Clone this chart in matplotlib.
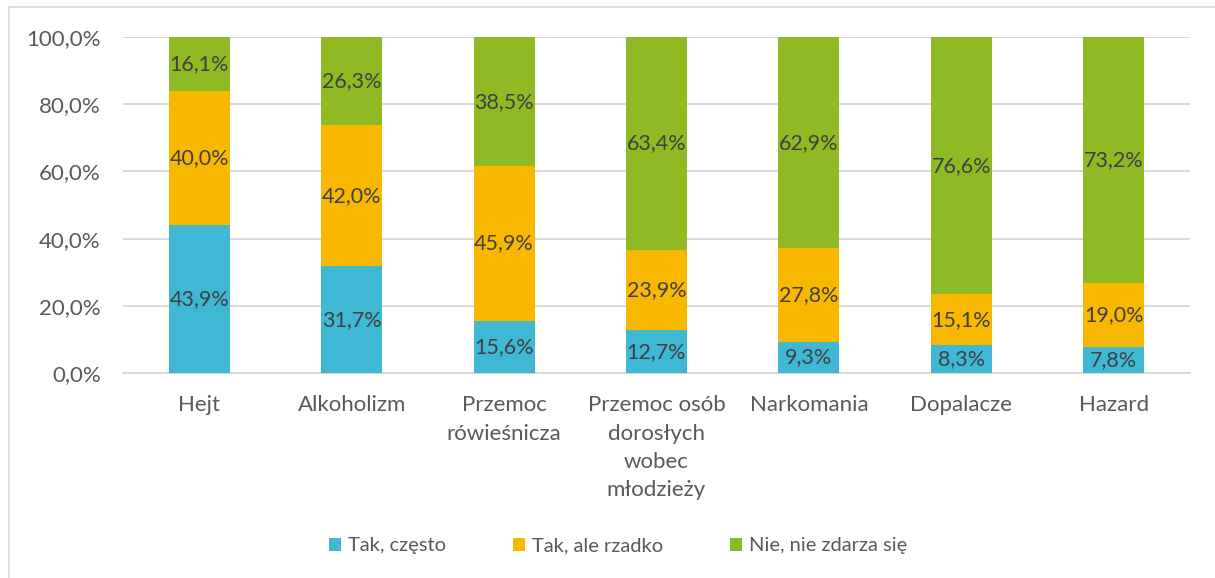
import matplotlib
matplotlib.use('Agg')
import matplotlib.pyplot as plt
from matplotlib.lines import Line2D
import numpy as np

plt.rcParams['font.family'] = ['Lato', 'DejaVu Sans']

categories = ['Hejt', 'Alkoholizm', 'Przemoc\nrówieśnicza',
              'Przemoc osób\ndorosłych\nwobec\nmłodzieży',
              'Narkomania', 'Dopalacze', 'Hazard']
often = [43.9, 31.7, 15.6, 12.7, 9.3, 8.3, 7.8]
rarely = [40.0, 42.0, 45.9, 23.9, 27.8, 15.1, 19.0]
never = [16.1, 26.3, 38.5, 63.4, 62.9, 76.6, 73.2]
series_names = ['Tak, często', 'Tak, ale rzadko', 'Nie, nie zdarza się']
colors = ['#3FB8D3', '#F9B800', '#8FBA24']

fig = plt.figure(figsize=(12.15, 5.78), dpi=100)
ax = fig.add_axes([123 / 1215, 1 - 373 / 578, (1190 - 123) / 1215, (373 - 37) / 578])

x = np.arange(len(categories))
width = 0.4
bottom = np.zeros(len(categories))
for vals, name, col in zip([often, rarely, never], series_names, colors):
    vals = np.array(vals)
    ax.bar(x, vals, width, bottom=bottom, color=col, label=name, zorder=3)
    for xi, b, v in zip(x, bottom, vals):
        ax.text(xi, b + v / 2, f'{v:.1f}%'.replace('.', ','), ha='center', va='center',
                fontsize=15.5, color='#404040', zorder=4)
    bottom += vals

ax.set_xlim(-0.5, len(categories) - 0.5)
ax.set_ylim(0, 100)
ax.set_yticks(np.arange(0, 101, 20))
ax.set_yticklabels([f'{t:.1f}%'.replace('.', ',') for t in np.arange(0, 101, 20)])
ax.set_xticks(x)
ax.set_xticklabels(categories, linespacing=1.52, va='top')
ax.tick_params(axis='both', length=0, labelsize=16, labelcolor='#595959')
ax.tick_params(axis='x', pad=16)
ax.tick_params(axis='y', pad=16)
ax.grid(axis='y', color='#D9D9D9', linewidth=1.4, zorder=0)
for s in ['top', 'right', 'left']:
    ax.spines[s].set_visible(False)
ax.spines['bottom'].set_color('#D9D9D9')
ax.spines['bottom'].set_linewidth(1.4)

ax.legend(loc='center', bbox_to_anchor=(618 / 1215, 1 - 546 / 578),
          bbox_transform=fig.transFigure, ncol=3, frameon=False,
          fontsize=14.5, labelcolor='#595959', handlelength=0.62, handleheight=0.62,
          handletextpad=0.35, columnspacing=3.3)

# chart area border
fig.add_artist(Line2D([9 / 1215, 9 / 1215], [0, 1 - 7 / 578], transform=fig.transFigure,
                      color='#D9D9D9', linewidth=1.2))
fig.add_artist(Line2D([9 / 1215, 1], [1 - 7 / 578, 1 - 7 / 578], transform=fig.transFigure,
                      color='#D9D9D9', linewidth=1.2))

fig.savefig('out.png', dpi=100)
